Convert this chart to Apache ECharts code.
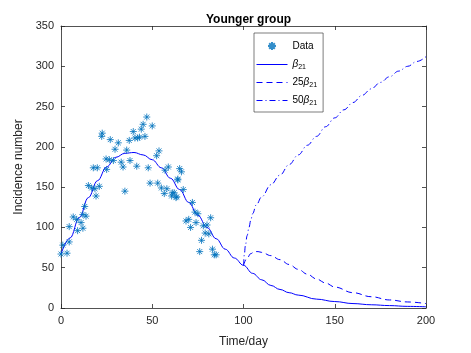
<!DOCTYPE html>
<html>
<head>
<meta charset="utf-8">
<script src="https://cdn.jsdelivr.net/npm/echarts@6/dist/echarts.min.js"></script>
<style>
html,body{margin:0;padding:0;background:#fff;}
#chart{width:471px;height:353px;}
</style>
</head>
<body>
<div id="chart"></div>
<script>
// Observed data (asterisks)
var dataDays = [0,1,3.3,4.5,4.5,6.7,8.6,9.1,11,12,12,13,13.7,15,16.8,17.7,18.6,19.2,19.9,21,22.3,22.6,24.7,25,26.5,27,28.7,29.6,31.4,33,34,35,36,37.4,37.8,39.6,40.5,41.5,42,43,44,45,46,47,47.8,48.8,50,52.4,53,53.7,55,56.6,57,58,58.8,60.6,61,62,63,63.4,64,64,65,66,67,68.5,70,71,72,73.4,74,75,76,77,78,79,80,81,82,83,84,85];
var dataValues = [67,78,68,82,101,113,110,96,106,99,116,126,114,152,149,174,148,139,174,151,213,217,185,172,184,209,183,197,205,181,175,145,196,208,183,219,211,176,211,212,222,228,213,237,174,155,226,189,155,195,149,142,171,148,175,139,143,143,137,138,159,160,173,169,147,108,110,100,131,119,106,117,70,84,102,93,103,92,112,73,66,66];

// beta21 model curve
var baseDays = [0,5,10,15,20,25,30,35,40,45,50,55,60,65,70,75,80,85,90,95,100,105,110,115,120,125,130,140,150,160,170,180,190,200];
var baseValues = [67,87,112,137,158,175,187,192,193,190,184,174,161,147,131,115,100,86,73,62,53,43,35,28,23,19,16,11,8,5.5,4,3,2,1.5];

// 25 beta21 curve
var x25Days = [100,102,104,106,108,110,115,120,125,130,135,140,145,150,160,170,180,190,200];
var x25Values = [53,62,67.5,70,70,69,65,60,54,48,42,36,31,26,19,14,10,7.5,5.5];

// 50 beta21 curve
var x50Days = [100,100.5,101,102,103,104,105,107,110,115,120,125,130,135,140,145,150,155,160,165,170,175,180,185,190,195,200];
var x50Values = [53,67,77,90,100,109,117,128,138,153,165,178,190,202,213,225,236,246,255,264,272,280,287,294,300,306,312];

var xTicks = [0,50,100,150,200];
var yTicks = [0,50,100,150,200,250,300,350];

function pairs(xs, ys){ return xs.map(function(x,i){ return [x, ys[i]]; }); }

var chart = echarts.init(document.getElementById('chart'), null, {renderer:'canvas'});
var axisColor = '#262626';
var fontFam = '"Liberation Sans", Arial, Helvetica, sans-serif';
var star = 'path://M5,0L5,10M0,5L10,5M1.46,1.46L8.54,8.54M1.46,8.54L8.54,1.46';
var starLegend = 'path://M-2.5,-2.5M12.5,12.5M5,0L5,10M0,5L10,5M1.46,1.46L8.54,8.54M1.46,8.54L8.54,1.46';
var lineBlue = '#0000ff';

var richLegend = {
  n: {fontSize:10, fontFamily: fontFam, color:'#000'},
  b: {fontSize:10, fontFamily: fontFam, fontStyle:'italic', color:'#000'},
  s: {fontSize:7, fontFamily: fontFam, color:'#000', padding:[6,0,0,0]}
};

chart.setOption({
  animation:false,
  backgroundColor:'#fff',
  title:{
    text:'Younger group',
    left:243.5, textAlign:'center', top:9,
    textStyle:{fontSize:12, fontWeight:'bold', color:'#000', fontFamily: fontFam}
  },
  grid:{left:61, right:45, top:26, bottom:39, containLabel:false},
  legend:{
    orient:'vertical',
    left:254, top:33,
    width:72,
    backgroundColor:'#fff',
    borderColor:'#262626', borderWidth:0.6,
    padding:[6,6,5,2],
    itemWidth:31, itemHeight:12, itemGap:5,
    textStyle:{fontSize:10, fontFamily: fontFam, color:'#000', lineHeight:13, rich: richLegend},
    data:[
      {name:'Data', icon: starLegend},
      {name:'b1', itemStyle:{opacity:0}, lineStyle:{width:1}},
      {name:'b25', itemStyle:{opacity:0}, lineStyle:{width:1}},
      {name:'b50', itemStyle:{opacity:0}, lineStyle:{width:1}}
    ],
    formatter:function(name){
      if(name==='Data') return '{n|Data}';
      if(name==='b1') return '{b|β}{s|21}';
      if(name==='b25') return '{n|25}{b|β}{s|21}';
      return '{n|50}{b|β}{s|21}';
    }
  },
  xAxis:[{
    type:'value', min:0, max:200, interval:50,
    name:'Time/day', nameLocation:'middle', nameGap:28,
    nameTextStyle:{fontSize:12, color:axisColor, fontFamily: fontFam},
    axisLine:{show:true, onZero:false, lineStyle:{color:axisColor, width:0.8}},
    axisTick:{show:true, inside:true, length:4, lineStyle:{color:axisColor, width:0.8}},
    axisLabel:{fontSize:11, color:axisColor, margin:7, fontFamily: fontFam},
    splitLine:{show:false}
  },{
    type:'value', min:0, max:200, interval:50, position:'top',
    axisLine:{show:true, onZero:false, lineStyle:{color:axisColor, width:0.8}},
    axisTick:{show:true, inside:true, length:4, lineStyle:{color:axisColor, width:0.8}},
    axisLabel:{show:false}, splitLine:{show:false}
  }],
  yAxis:[{
    type:'value', min:0, max:350, interval:50,
    name:'Incidence number', nameLocation:'middle', nameGap:33,
    nameTextStyle:{fontSize:12, color:axisColor, fontFamily: fontFam},
    axisLine:{show:true, onZero:false, lineStyle:{color:axisColor, width:0.8}},
    axisTick:{show:true, inside:true, length:4, lineStyle:{color:axisColor, width:0.8}},
    axisLabel:{fontSize:11, color:axisColor, margin:7, fontFamily: fontFam},
    splitLine:{show:false}
  },{
    type:'value', min:0, max:350, interval:50, position:'right',
    axisLine:{show:true, onZero:false, lineStyle:{color:axisColor, width:0.8}},
    axisTick:{show:true, inside:true, length:4, lineStyle:{color:axisColor, width:0.8}},
    axisLabel:{show:false}, splitLine:{show:false}
  }],
  series:[
    {
      name:'Data', type:'scatter',
      symbol: star, symbolSize:7,
      itemStyle:{color:'rgba(0,0,0,0)', borderColor:'#0072BD', borderWidth:1},
      data: pairs(dataDays, dataValues),
      z:3
    },
    {
      name:'b1', type:'line', symbol:'none', smooth:0.4, smoothMonotone:'x',
      lineStyle:{color:lineBlue, width:1, type:'solid'},
      itemStyle:{color:lineBlue},
      data: pairs(baseDays, baseValues), z:2
    },
    {
      name:'b25', type:'line', symbol:'none', smooth:0.4, smoothMonotone:'x',
      lineStyle:{color:lineBlue, width:1, type:[6,4]},
      itemStyle:{color:lineBlue},
      data: pairs(x25Days, x25Values), z:2
    },
    {
      name:'b50', type:'line', symbol:'none', smooth:0.4, smoothMonotone:'x',
      lineStyle:{color:lineBlue, width:1, type:[6,3,1,3]},
      itemStyle:{color:lineBlue},
      data: pairs(x50Days, x50Values), z:2
    }
  ]
});
</script>
</body>
</html>
